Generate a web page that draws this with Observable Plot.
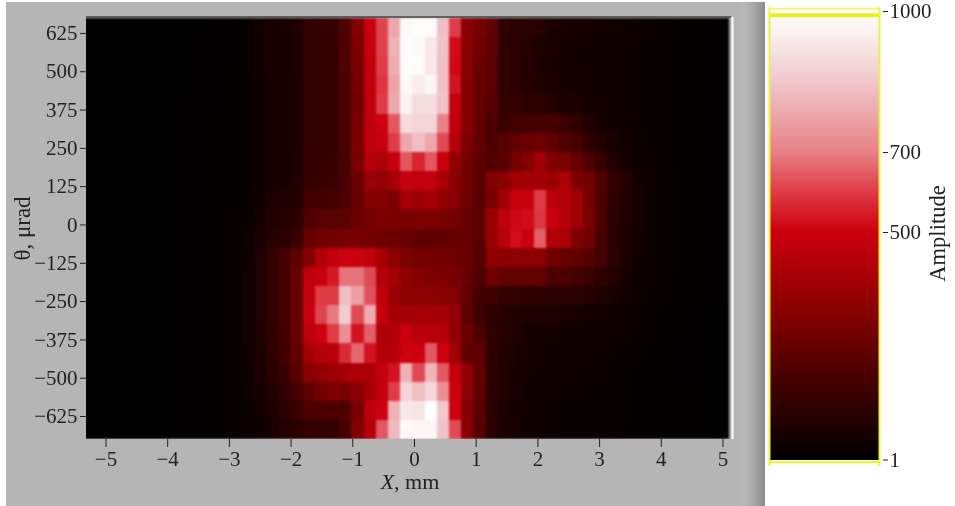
<!DOCTYPE html>
<html>
<head>
<meta charset="utf-8">
<script src="https://cdn.jsdelivr.net/npm/d3@7"></script>
<script src="https://cdn.jsdelivr.net/npm/@observablehq/plot@0.6"></script>
<style>
html,body{margin:0;padding:0;background:#fff;width:955px;height:506px;overflow:hidden}
#panel{position:absolute;left:6px;top:2px;width:759px;height:504px;background:linear-gradient(to right,#b5b5b5 0,#b5b5b5 732px,#b8b8b8 738px,#a8a8a8 748px,#8c8c8c 759px)}
#chart,#bar{position:absolute;left:0;top:0}
svg{filter:blur(.45px)}
</style>
</head>
<body>
<div id="panel"></div>
<div id="chart"></div>
<div id="bar"></div>
<script>
const xTicks = [-5,-4,-3,-2,-1,0,1,2,3,4,5];
const yTicks = [-625,-500,-375,-250,-125,0,125,250,375,500,625];
const barTicks = [1,500,700,1000];
const ampStops  = [1,100,200,300,400,500,600,700,850,950,1000];
const ampColors = ["#000000","#280000","#500000","#7d0000","#a50005","#cd000f","#de3c46","#e88287","#f0c8cd","#faf0f0","#ffffff"];

const amplitude = [
[3,3,3,3,3,3,4,4,4,5,5,6,8,15,45, 60,62,72,125,130,135,200,310,490, 610,780,980,985,985,830,600,330,280, 240,120,110,100,90,70,60,60,50,45,40, 35,30,25,20,15,12,10,8,6],
[3,3,3,3,3,3,4,4,4,5,5,6,8,15,45, 60,62,72,125,130,135,205,300,480, 610,800,990,980,930,840,520,330,270, 230,120,105,90,75,65,55,45,40,40,35, 30,25,20,18,12,10,8,6,5],
[3,3,3,3,3,3,4,4,4,5,5,6,9,16,42, 60,60,72,122,130,135,200,290,470, 600,790,985,990,930,830,510,330,260, 225,120,100,85,70,60,50,45,45,40,35, 30,25,20,16,12,10,8,6,5],
[3,3,3,3,3,3,4,4,5,5,6,8,10,16,40, 58,60,70,122,128,135,190,280,470, 590,770,980,940,970,830,530,320,250, 220,120,110,95,75,65,55,45,45,45,40, 30,25,20,16,12,10,8,6,5],
[3,3,3,3,3,4,4,5,5,6,7,9,12,18,40, 58,60,70,122,128,135,190,270,460, 600,780,960,900,900,840,470,320,250, 210,125,130,120,110,90,70,65,55,45,40, 30,25,20,16,12,10,8,6,5],
[3,3,3,3,3,4,4,5,6,7,8,10,14,18,40, 58,60,70,125,130,135,185,290,460, 500,640,900,880,880,700,470,320,240, 190,150,165,165,170,175,150,120,80,60,45, 35,28,22,16,12,10,8,6,5],
[3,3,3,3,3,4,4,5,6,7,8,10,14,18,40, 58,60,70,125,130,135,180,300,460, 480,600,780,830,780,620,440,300,235, 190,215,240,255,270,240,200,170,120,80,55, 40,30,22,16,12,10,8,6,5],
[3,3,3,3,3,4,4,5,6,6,8,10,14,18,40, 58,60,72,125,132,140,175,290,440, 420,480,640,560,640,490,350,285,225, 200,225,280,320,390,310,290,250,190,130,80, 55,35,25,18,14,10,8,6,5],
[3,3,3,3,3,4,4,5,5,6,8,10,14,18,40, 60,62,75,135,140,150,175,260,370, 350,400,480,470,480,400,330,275,225, 310,330,390,390,400,370,420,300,280,200,125, 85,45,30,22,15,12,8,6,5],
[3,3,3,3,3,4,4,5,5,6,8,10,14,20,42, 70,75,85,170,170,175,190,250,310, 320,300,400,380,400,350,320,265,220, 300,390,490,490,600,460,430,390,280,190,120, 85,50,30,22,15,12,8,6,5],
[3,3,3,3,3,4,4,5,5,6,8,10,16,24,50, 85,90,110,200,220,220,230,260,280, 300,300,290,300,300,290,280,250,225, 380,460,510,520,590,490,430,390,290,190,110, 75,50,30,22,15,12,8,6,5],
[3,3,3,3,3,4,4,5,5,6,8,12,20,30,60, 95,110,140,250,270,280,290,290,280, 270,260,250,240,235,240,250,245,225, 370,440,520,490,650,430,410,300,270,180,100, 70,45,30,22,15,12,8,6,5],
[3,3,3,3,3,4,4,5,5,6,8,12,20,38,75, 125,170,230,320,430,470,500,490,470, 400,340,300,285,280,275,270,250,215, 340,330,340,340,340,270,250,240,210,170,110, 70,40,28,20,15,12,8,6,5],
[3,3,3,3,3,4,4,5,5,6,8,12,18,42,75, 125,170,250,470,490,540,680,680,620, 430,400,340,320,305,300,290,250,190, 270,240,240,240,240,190,190,170,150,110,90, 55,35,25,18,14,10,8,6,5],
[3,3,3,3,3,4,4,5,6,6,8,12,18,42,75, 125,170,250,480,600,600,830,760,630, 470,370,340,340,340,330,310,240,170, 160,130,125,120,115,110,105,100,90,75,60, 45,30,22,16,12,10,8,6,5],
[3,3,3,3,3,4,4,5,6,7,8,12,18,42,75, 125,170,250,480,610,690,860,620,790, 480,400,390,400,400,390,350,230,150, 110,95,85,75,70,70,65,60,50,45,40, 32,25,18,14,10,8,6,5,4],
[3,3,3,3,3,4,4,5,6,7,8,12,18,42,72, 120,165,250,460,500,600,730,530,650, 420,430,490,450,450,440,350,260,190, 120,95,80,60,50,50,45,40,40,35,30, 25,20,15,12,10,8,6,5,4],
[3,3,3,3,3,4,4,5,5,6,8,12,18,40,70, 115,160,240,400,440,450,570,660,530, 430,440,500,500,640,500,390,240,230, 110,85,70,55,45,40,35,35,30,30,25, 20,16,12,10,8,6,5,4,4],
[3,3,3,3,3,4,4,5,5,6,8,12,18,35,65, 105,140,215,330,350,380,400,420,420, 470,530,800,620,810,640,480,350,240, 120,80,60,50,40,35,30,30,25,25,20, 16,12,10,8,8,6,5,4,4],
[3,3,3,3,3,4,4,5,5,6,8,12,18,32,55, 85,120,170,230,280,300,290,330,400, 470,600,880,830,890,730,500,340,240, 110,80,55,45,35,30,25,25,20,20,20, 16,12,10,8,8,8,8,6,4],
[3,3,3,3,3,4,4,5,5,6,8,12,16,28,45, 70,100,140,190,190,180,190,290,460, 500,800,930,920,1000,850,500,320,220, 100,70,50,40,30,25,22,20,20,18,18, 15,12,10,8,8,8,8,6,4],
[3,3,3,3,3,4,4,5,5,6,8,12,16,25,40, 60,85,110,125,130,120,170,310,430, 640,820,980,970,970,840,620,330,210, 100,70,55,40,30,25,20,18,15,15,15, 12,12,10,8,8,8,8,6,4]
];

const xDomain = [-5.316, 5.138];
const yDomain = [-700, 677];
const firstColumn = -5.365, columnWidth = 0.1977;
const firstRowTop = 674, rowHeight = 62.47;

const cells = amplitude.flatMap((row, r) => row.map((v, c) => ({
  x1: firstColumn + c * columnWidth,
  x2: firstColumn + (c + 1) * columnWidth,
  y1: firstRowTop - (r + 1) * rowHeight,
  y2: firstRowTop - r * rowHeight,
  v
})));

const serif = "'Liberation Serif','Times New Roman',serif";
const colorScale = {type: "linear", domain: ampStops, range: ampColors, interpolate: "rgb"};
const signed = d => d < 0 ? "\u2212" + (-d) : String(d);

const main = Plot.plot({
  width: 955, height: 506,
  marginLeft: 86, marginRight: 224, marginTop: 17, marginBottom: 67,
  style: {background: "transparent", fontFamily: serif, color: "#222"},
  x: {domain: xDomain},
  y: {domain: yDomain},
  color: colorScale,
  marks: [
    Plot.rect(cells, {x1: "x1", x2: "x2", y1: "y1", y2: "y2", fill: "v", clip: "frame", shapeRendering: "crispEdges"}),
    Plot.ruleY([yDomain[1]], {stroke: "#444", strokeWidth: 1.5, dy: -0.5}),
    Plot.ruleX([xDomain[1]], {stroke: "#fff", strokeWidth: 2, dx: 1}),
    Plot.axisX({ticks: xTicks, tickFormat: signed, fontSize: 21, tickSize: 8, tickPadding: 4, label: null, stroke: "#222", fill: "#222"}),
    Plot.axisY({ticks: yTicks, tickFormat: signed, fontSize: 21, tickSize: 6, tickPadding: 3, label: "\u03b8, \u03bcrad", labelAnchor: "center", labelArrow: "none", labelOffset: 73, stroke: "#222", fill: "#222"})
  ]
});
main.querySelectorAll('g[aria-label="rect"] rect').forEach(r => {
  const p = r.parentNode;
  if (!p.style.filter) p.style.filter = "blur(1.1px)";
});
const yLabel = main.querySelector('g[aria-label="y-axis label"]');
if (yLabel) yLabel.setAttribute("font-size", 23);
// x-axis title with an italic X
const xTitle = d3.select(main).append("text")
  .attr("x", 410).attr("y", 489).attr("text-anchor", "middle")
  .attr("font-size", 22).attr("fill", "#222").attr("font-family", serif);
xTitle.append("tspan").attr("font-style", "italic").text("X");
xTitle.append("tspan").text(", mm");
document.getElementById("chart").append(main);

// colour bar
const levels = d3.range(1, 1000, 3);
const bar = Plot.plot({
  width: 955, height: 506,
  marginLeft: 769, marginRight: 76, marginTop: 0, marginBottom: 40,
  style: {background: "transparent", fontFamily: serif, color: "#222"},
  x: {domain: [0, 1], axis: null},
  y: {domain: [-14, 1, 500, 700, 1000, 1006], range: [466, 459.5, 232, 152, 11, 7], type: "linear"},
  color: colorScale,
  marks: [
    Plot.rect(levels, {x1: 0, x2: 1, y1: d => d, y2: d => d + 3, fill: d => d, shapeRendering: "crispEdges"}),
    Plot.ruleX([0, 1], {y1: -14, y2: 1006, stroke: "#eef040", strokeWidth: 2}),
    Plot.ruleY([1004], {x1: 0, x2: 1, stroke: "#f4f47a", strokeWidth: 2}),
    Plot.ruleY([992], {x1: 0, x2: 1, stroke: "#e8f020", strokeWidth: 4}),
    Plot.ruleY([-4], {x1: 0, x2: 1, stroke: "#e8f020", strokeWidth: 2}),
    Plot.axisY({anchor: "right", ticks: barTicks, tickFormat: String, fontSize: 21, tickSize: 5, tickPadding: 2, dx: 3, label: "Amplitude", labelAnchor: "center", labelArrow: "none", labelOffset: 65, stroke: "#222", fill: "#222"})
  ]
});
const barLabel = bar.querySelector('g[aria-label="y-axis label"]');
if (barLabel) barLabel.setAttribute("font-size", 22.5);
document.getElementById("bar").append(bar);
</script>
</body>
</html>
